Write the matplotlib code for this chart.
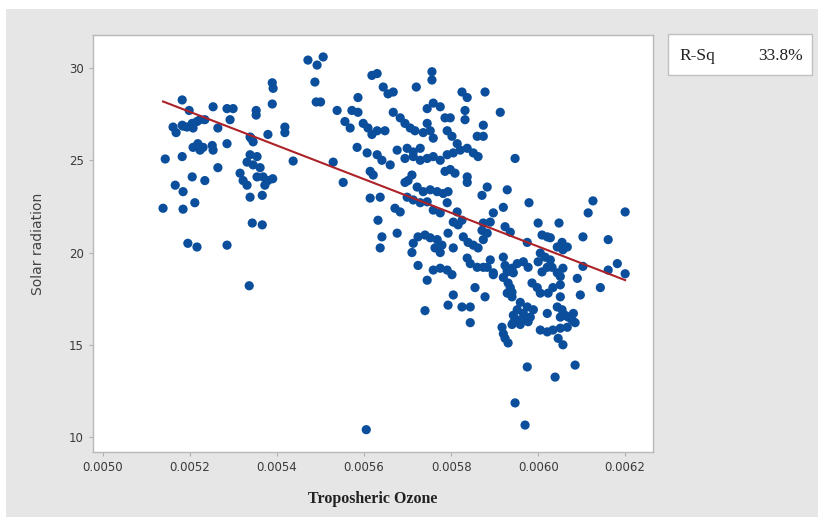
import numpy as np
import matplotlib
matplotlib.use('Agg')
import matplotlib.pyplot as plt
from matplotlib.patches import Rectangle
from matplotlib.ticker import FormatStrFormatter

# Data (Troposheric Ozone vs Solar radiation)
ozone = [
    # left group
    0.005471, 0.005492, 0.005506, 0.005487, 0.005490, 0.005500,
    0.005389, 0.005391, 0.005389, 0.005352, 0.005352, 0.005418, 0.005418, 0.005379, 0.005340,
    0.005437, 0.005529, 0.005552, 0.005538,
    0.005182, 0.005198, 0.005253, 0.005285, 0.005299, 0.005292, 0.005264,
    0.005161, 0.005168, 0.005182, 0.005193, 0.005205, 0.005216, 0.005223, 0.005234, 0.005207, 0.005184,
    0.005207, 0.005218, 0.005223, 0.005230, 0.005251, 0.005253, 0.005285,
    0.005143, 0.005182, 0.005264, 0.005205, 0.005234, 0.005166, 0.005184, 0.005211, 0.005138,
    0.005184, 0.005195, 0.005216, 0.005285, 0.005336,
    0.005338, 0.005354, 0.005331, 0.005345, 0.005361, 0.005315, 0.005322, 0.005331, 0.005354,
    0.005368, 0.005379, 0.005390, 0.005372, 0.005338, 0.005366,
    0.005343, 0.005366, 0.005338, 0.005345,
    # middle group
    0.005618, 0.005630, 0.005756, 0.005756, 0.005720, 0.005644, 0.005655, 0.005667, 0.005586,
    0.005825, 0.005837, 0.005878, 0.005913,
    0.005572, 0.005586, 0.005556, 0.005568,
    0.005598, 0.005609, 0.005618, 0.005630, 0.005648,
    0.005667, 0.005683, 0.005694, 0.005706, 0.005717,
    0.005745, 0.005759, 0.005775, 0.005786, 0.005798,
    0.005832, 0.005832, 0.005874,
    0.005745, 0.005752, 0.005736, 0.005759,
    0.005791, 0.005802, 0.005814, 0.005860, 0.005874,
    0.005584, 0.005607, 0.005630, 0.005641,
    0.005676, 0.005699, 0.005713, 0.005729,
    0.005694, 0.005713, 0.005729, 0.005745, 0.005759, 0.005775, 0.005791, 0.005805, 0.005821,
    0.005837, 0.005851, 0.005862,
    0.005660, 0.005614, 0.005621,
    0.005710, 0.005701, 0.005694,
    0.005786, 0.005798, 0.005809, 0.005837, 0.005837,
    0.005883, 0.005871, 0.005929,
    0.005614, 0.005637,
    0.005722, 0.005736, 0.005752, 0.005768, 0.005782, 0.005793,
    0.005699, 0.005713, 0.005729, 0.005745,
    0.005671, 0.005683,
    0.005759, 0.005775, 0.005791,
    0.005814, 0.005825, 0.005805, 0.005816,
    0.005632, 0.005676, 0.005641, 0.005637,
    0.005724, 0.005740, 0.005752, 0.005768, 0.005779, 0.005763, 0.005775,
    0.005713, 0.005710, 0.005724, 0.005745,
    0.005793, 0.005805,
    0.005828, 0.005839, 0.005851, 0.005862, 0.005874, 0.005883, 0.005871, 0.005874, 0.005890,
    0.005837, 0.005844, 0.005860, 0.005874, 0.005890, 0.005897,
    0.005759, 0.005775, 0.005791, 0.005802,
    0.005855, 0.005878, 0.005805, 0.005793,
    0.005825, 0.005844, 0.005844, 0.005740,
    0.005920, 0.005929, 0.005931, 0.005929,
    0.005920, 0.005924,
    0.005605,
    # right group
    0.005947, 0.005979, 0.005897, 0.005936,
    0.006000, 0.006009, 0.006021, 0.006028, 0.006048, 0.005975,
    0.006044, 0.006055, 0.006067, 0.006057, 0.006103,
    0.006126, 0.006115, 0.006200, 0.006161,
    0.006182, 0.006161, 0.006200, 0.006103, 0.006143, 0.006090, 0.006097,
    0.006005, 0.006016, 0.006028, 0.006000, 0.006021, 0.006032, 0.006009, 0.006044, 0.006051, 0.006057,
    0.006051, 0.006034, 0.005998, 0.005986, 0.006005, 0.006023,
    0.005924, 0.005940, 0.005952, 0.005966, 0.005977,
    0.005897, 0.005883,
    0.005920, 0.005936, 0.005940, 0.005940,
    0.005929, 0.005943,
    0.006051,
    0.005959, 0.005975, 0.005989, 0.005952, 0.005966, 0.005982, 0.005943, 0.005966, 0.005943,
    0.005952, 0.005959, 0.005977, 0.005940,
    0.006021,
    0.006044, 0.006055, 0.006062, 0.006069, 0.006081, 0.006078, 0.006085, 0.006051,
    0.006005, 0.006021, 0.006034, 0.006051, 0.006067,
    0.005917, 0.005920, 0.005924, 0.005931,
    0.006046, 0.006057,
    0.005975, 0.006085, 0.006039, 0.005947, 0.005970,
]

solar = [
    # left group
    30.43, 30.16, 30.60, 29.24, 28.16, 28.16,
    29.20, 28.90, 28.05, 27.70, 27.45, 26.80, 26.50, 26.40, 26.20,
    24.96, 24.90, 23.80, 27.70,
    28.27, 27.70, 27.90, 27.80, 27.80, 27.20, 26.75,
    26.80, 26.50, 26.90, 26.80, 27.00, 27.10, 27.20, 27.20, 26.75, 26.85,
    25.70, 25.90, 25.55, 25.70, 25.80, 25.55, 25.90,
    25.07, 25.20, 24.60, 24.10, 23.90, 23.65, 23.30, 22.70, 22.40,
    22.35, 20.50, 20.30, 20.40, 18.20,
    25.30, 25.20, 24.90, 24.75, 24.60, 24.30, 23.90, 23.65, 24.10,
    24.10, 23.90, 24.00, 23.65, 23.00, 23.10,
    21.60, 21.50, 26.26, 26.00,
    # middle group
    29.60, 29.70, 29.80, 29.35, 28.97, 28.97, 28.60, 28.70, 28.40,
    28.70, 28.40, 28.70, 27.60,
    27.70, 27.60, 27.10, 26.75,
    27.00, 26.75, 26.40, 26.60, 26.60,
    27.60, 27.30, 27.00, 26.75, 26.60,
    27.80, 28.10, 27.90, 27.30, 27.30,
    27.70, 27.20, 26.90,
    27.00, 26.60, 26.50, 26.20,
    26.60, 26.30, 25.90, 26.30, 26.30,
    25.70, 25.40, 25.30, 25.00,
    25.55, 25.65, 25.45, 25.65,
    25.10, 25.20, 25.00, 25.10, 25.20, 25.00, 25.30, 25.40, 25.55,
    25.65, 25.40, 25.20,
    24.75, 24.40, 24.20,
    24.20, 23.90, 23.80,
    24.40, 24.50, 24.30, 24.10, 23.80,
    23.55, 23.10, 23.40,
    22.95, 23.00,
    23.55, 23.30, 23.40, 23.30, 23.20, 23.30,
    23.00, 22.85, 22.70, 22.75,
    22.40, 22.20,
    22.30, 22.15, 22.70,
    22.20, 21.75, 21.65, 21.50,
    21.75, 21.05, 20.85, 20.25,
    20.85, 20.95, 20.80, 20.70, 20.40, 20.25, 20.00,
    20.50, 20.00, 19.30, 18.50,
    21.05, 20.25,
    20.85, 20.55, 20.40, 20.25, 20.70, 21.05, 21.20, 21.60, 21.65,
    19.70, 19.40, 19.20, 19.20, 19.60, 18.90,
    19.05, 19.15, 19.05, 18.80,
    18.10, 17.60, 17.70, 17.15,
    17.05, 17.05, 16.20, 16.85,
    19.75, 19.05, 18.35, 17.80,
    22.45, 21.40,
    10.40,
    # right group
    25.10, 22.70, 22.15, 21.10,
    21.60, 20.95, 20.85, 20.80, 21.60, 20.55,
    20.30, 20.55, 20.30, 20.15, 20.85,
    22.80, 22.15, 22.20, 20.70,
    19.40, 19.05, 18.85, 19.25, 18.10, 18.60, 17.70,
    19.97, 19.75, 19.60, 19.50, 19.20, 19.20, 18.95, 18.90, 18.70, 19.15,
    18.25, 18.10, 18.10, 18.35, 17.80, 17.80,
    19.30, 19.15, 19.40, 19.50, 19.20,
    18.80, 19.20,
    18.65, 18.10, 17.85, 17.60,
    18.95, 18.90,
    17.60,
    17.30, 17.05, 16.90, 16.90, 16.70, 16.50, 16.60, 16.35, 16.20,
    16.35, 16.10, 16.25, 16.10,
    16.70,
    17.05, 16.90, 16.60, 16.50, 16.70, 16.35, 16.20, 16.50,
    15.80, 15.70, 15.80, 15.90, 15.95,
    15.95, 15.60, 15.35, 15.10,
    15.35, 15.00,
    13.80, 13.90, 13.25, 11.85, 10.65,
]

# regression line as shown (Solar = a + b * Ozone)
fit_intercept = 75.03
fit_slope = -9117.0
r_sq = '33.8%'

x_ticks = [0.0050, 0.0052, 0.0054, 0.0056, 0.0058, 0.0060, 0.0062]
y_ticks = [10, 15, 20, 25, 30]

fig = plt.figure(figsize=(8.18, 5.17), dpi=100, facecolor='white')
# grey panel behind everything (Minitab style)
fig.patches.append(Rectangle((6 / 818, 0), 1, 1 - 9 / 517, transform=fig.transFigure,
                             facecolor='#e6e6e6', edgecolor='none', zorder=-10))

ax = fig.add_axes([93 / 818, 1 - 452 / 517, 560 / 818, 417 / 517])
ax.set_facecolor('white')

ax.scatter(ozone, solar, s=44, color='#0b4f9c', edgecolors='none', zorder=3)

xl = np.array([min(ozone), max(ozone)])
ax.plot(xl, fit_intercept + fit_slope * xl, color='#ad2229', lw=1.5, zorder=4)

ax.set_xlim(0.004977, 0.006264)
ax.set_ylim(9.19, 31.79)
ax.set_xticks(x_ticks)
ax.set_yticks(y_ticks)
ax.xaxis.set_major_formatter(FormatStrFormatter('%.4f'))

for sp in ax.spines.values():
    sp.set_color('#b8b8b8')
    sp.set_linewidth(1.0)
ax.tick_params(axis='both', colors='#b0b0b0', labelcolor='#3a3a3a', labelsize=8.5,
               length=3, width=0.8, direction='out')

ax.set_ylabel('Solar radiation', fontsize=10, color='#444444', labelpad=17)
ax.set_xlabel('Troposheric Ozone', fontsize=11.5, fontweight='bold',
              family='Liberation Serif', color='#222222', labelpad=12)

# R-Sq box
fig.patches.append(Rectangle((668 / 818, 1 - 75 / 517), 144 / 818, 41 / 517,
                             transform=fig.transFigure, facecolor='white',
                             edgecolor='#c0c0c0', lw=1.0, zorder=1))
fig.text(679 / 818, 1 - 56 / 517, 'R-Sq', family='Liberation Serif', fontsize=12.5,
         va='center', ha='left', color='#222222')
fig.text(803 / 818, 1 - 56 / 517, r_sq, family='Liberation Serif', fontsize=12.5,
         va='center', ha='right', color='#222222')

plt.savefig('out.png', dpi=100, facecolor=fig.get_facecolor())
